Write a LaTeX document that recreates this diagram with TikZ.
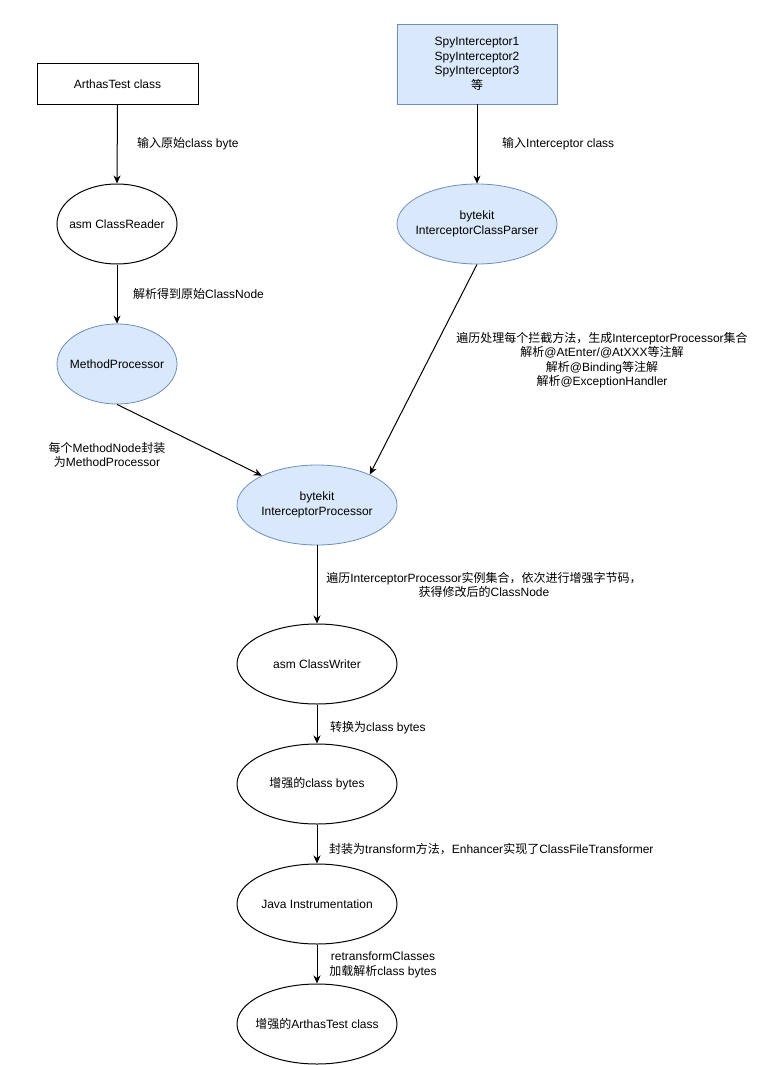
\documentclass[tikz,border=0pt]{standalone}
\usepackage{fontspec}
\setmainfont{Liberation Sans}
\newfontfamily\cjk{Noto Sans CJK SC}
\newcommand{\zh}[1]{{\cjk #1}}
\usetikzlibrary{shapes.geometric,arrows.meta}
\definecolor{bluefill}{HTML}{DAE8FC}
\definecolor{bluestroke}{HTML}{6C8EBF}
\begin{document}
\begin{tikzpicture}[x=1pt,y=-1pt,
  txt/.style={font=\fontsize{12pt}{14.5pt}\selectfont, inner sep=0pt, align=center},
  plainbox/.style={txt, draw=black, line width=1pt, rectangle, minimum width=161pt, minimum height=40pt},
  bluebox/.style={txt, draw=bluestroke, fill=bluefill, line width=0.8pt, rectangle, minimum width=160pt, minimum height=80pt},
  smallell/.style={txt, ellipse, inner xsep=-25pt, draw=black, line width=1pt, minimum width=120pt, minimum height=80pt},
  bigell/.style={txt, ellipse, inner xsep=-25pt, draw=black, line width=1pt, minimum width=160pt, minimum height=80pt},
  blueell/.style={draw=bluestroke, fill=bluefill, line width=0.8pt},
  lbl/.style={txt, anchor=west},
  conn/.style={line width=1pt, -{Stealth[length=8pt,width=7pt,inset=2.5pt]}}
]
\useasboundingbox (0,0) rectangle (775,1065);
\fill[white] (0,0) rectangle (775,1065);

% left column
\node[plainbox] (at) at (117.5,84) {ArthasTest class};
\node[smallell] (cr) at (117,224) {asm ClassReader};
\node[smallell, blueell] (mp) at (117,364) {MethodProcessor};

% right column
\node[bluebox] (spy) at (477,64) {SpyInterceptor1\\SpyInterceptor2\\SpyInterceptor3\\\zh{等}};
\node[bigell, blueell] (icp) at (477,224) {bytekit\\InterceptorClassParser};

% center column
\node[bigell, blueell] (ip) at (317,505) {bytekit\\InterceptorProcessor};
\node[bigell] (cw) at (317,664) {asm ClassWriter};
\node[bigell] (cb) at (317,784) {\zh{增强的}class bytes};
\node[bigell] (ji) at (317,904) {Java Instrumentation};
\node[bigell] (fin) at (317,1024) {\zh{增强的}ArthasTest class};

% connectors
\draw[conn] (at.south) -- (cr.north);
\draw[conn] (cr.south) -- (mp.north);
\draw[conn] (spy.south) -- (icp.north);
\draw[conn] (mp.south) -- (ip.152);
\draw[conn] (icp.south) -- (ip.30);
\draw[conn] (ip.south) -- (cw.north);
\draw[conn] (cw.south) -- (cb.north);
\draw[conn] (cb.south) -- (ji.north);
\draw[conn] (ji.south) -- (fin.north);

% labels
\node[lbl] (l1) at (137,144) {\zh{输入原始}class byte};
\node[lbl] (l2) at (133,294) {\zh{解析得到原始}ClassNode};
\node[txt] (l3) at (107,455) {\zh{每个}MethodNode\zh{封装}\\\zh{为}MethodProcessor};
\node[lbl] (l4) at (502,144) {\zh{输入}Interceptor class};
\node[txt] (l5) at (602,360) {\zh{遍历处理每个拦截方法，生成}InterceptorProcessor\zh{集合}\\\zh{解析}@AtEnter/@AtXXX\zh{等注解}\\\zh{解析}@Binding\zh{等注解}\\\zh{解析}@ExceptionHandler};
\node[txt] (l6) at (484,585) {\zh{遍历}InterceptorProcessor\zh{实例集合，依次进行增强字节码，}\\\zh{获得修改后的}ClassNode};
\node[lbl] (l7) at (330,728) {\zh{转换为}class bytes};
\node[lbl] (l8) at (329,849) {\zh{封装为}transform\zh{方法，}Enhancer\zh{实现了}ClassFileTransformer};
\node[txt] (l9) at (383,965) {retransformClasses\\\zh{加载解析}class bytes};
\end{tikzpicture}
\end{document}
